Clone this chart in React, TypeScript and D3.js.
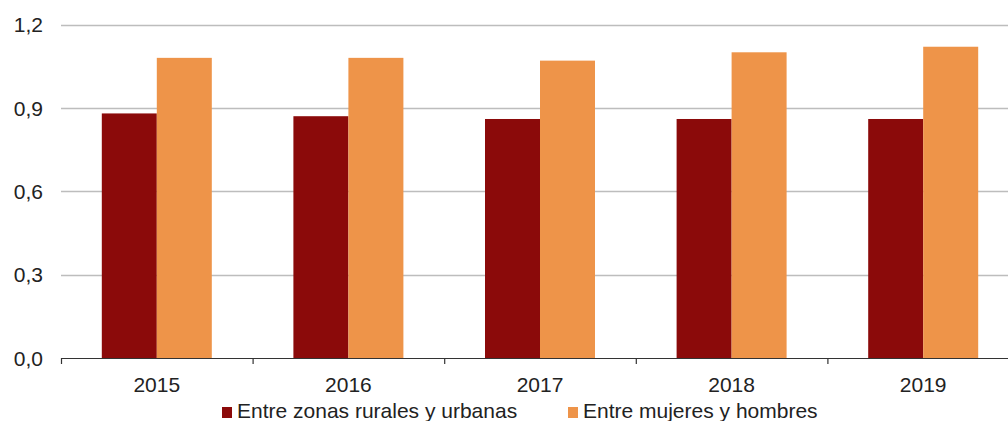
import React from "react";
import * as d3 from "d3";

const years = ["2015", "2016", "2017", "2018", "2019"];
const rural = [0.88, 0.87, 0.86, 0.86, 0.86];
const gender = [1.08, 1.08, 1.07, 1.1, 1.12];
const yTicks = [0, 0.3, 0.6, 0.9, 1.2];
const seriesNames = ["Entre zonas rurales y urbanas", "Entre mujeres y hombres"];
const colors = ["#8B0A0A", "#EE9449"];

export default function App() {
  const W = 1008, H = 421;
  const left = 61, right = 1019, top = 24.5, bottom = 358;
  const x = d3.scaleBand().domain(years).range([left, right]).paddingInner(0).paddingOuter(0);
  const y = d3.scaleLinear().domain([0, 1.2]).range([bottom, top]);
  const bw = 55;
  const font = "'Liberation Sans', Arial, sans-serif";
  const fs = 21;
  const fmt = (v: number) => v.toFixed(1).replace(".", ",");
  const data = [rural, gender];
  const legendX = [222, 568];
  return (
    <div style={{ position: "fixed", left: 0, top: 0 }}>
      <svg width={W} height={H} style={{ display: "block" }}>
        <rect width={W} height={H} fill="#fff" />
        {yTicks.filter(t => t > 0).map(t => (
          <line key={t} x1={left} x2={W} y1={Math.round(y(t)) + 0.5} y2={Math.round(y(t)) + 0.5} stroke="#BDBDBD" strokeWidth={1.3} />
        ))}
        {yTicks.map(t => (
          <text key={t} x={43} y={y(t) + 7.8} textAnchor="end" fontFamily={font} fontSize={fs} fill="#222">{fmt(t)}</text>
        ))}
        {years.map((yr, i) => {
          const c = (x(yr) as number) + x.bandwidth() / 2;
          return (
            <g key={yr}>
              {data.map((s, j) => (
                <rect key={j} x={c - bw + j * bw} y={y(s[i])} width={bw} height={bottom - y(s[i])} fill={colors[j]} />
              ))}
              <text x={c} y={391.5} textAnchor="middle" fontFamily={font} fontSize={fs} fill="#222">{yr}</text>
            </g>
          );
        })}
        <line x1={left} x2={W} y1={bottom + 0.5} y2={bottom + 0.5} stroke="#333" strokeWidth={1.2} />
        {[...years.map(yr => x(yr) as number), right].map((t, i) => (
          <line key={i} x1={t + 0.5} x2={t + 0.5} y1={bottom} y2={bottom + 6} stroke="#333" strokeWidth={1.2} />
        ))}
        {seriesNames.map((n, j) => {
          const lx = legendX[j];
          return (
            <g key={n}>
              <rect x={lx} y={407} width={10} height={11} fill={colors[j]} />
              <text x={lx + 15} y={418} fontFamily={font} fontSize={fs} fill="#222">{n}</text>
            </g>
          );
        })}
      </svg>
    </div>
  );
}
